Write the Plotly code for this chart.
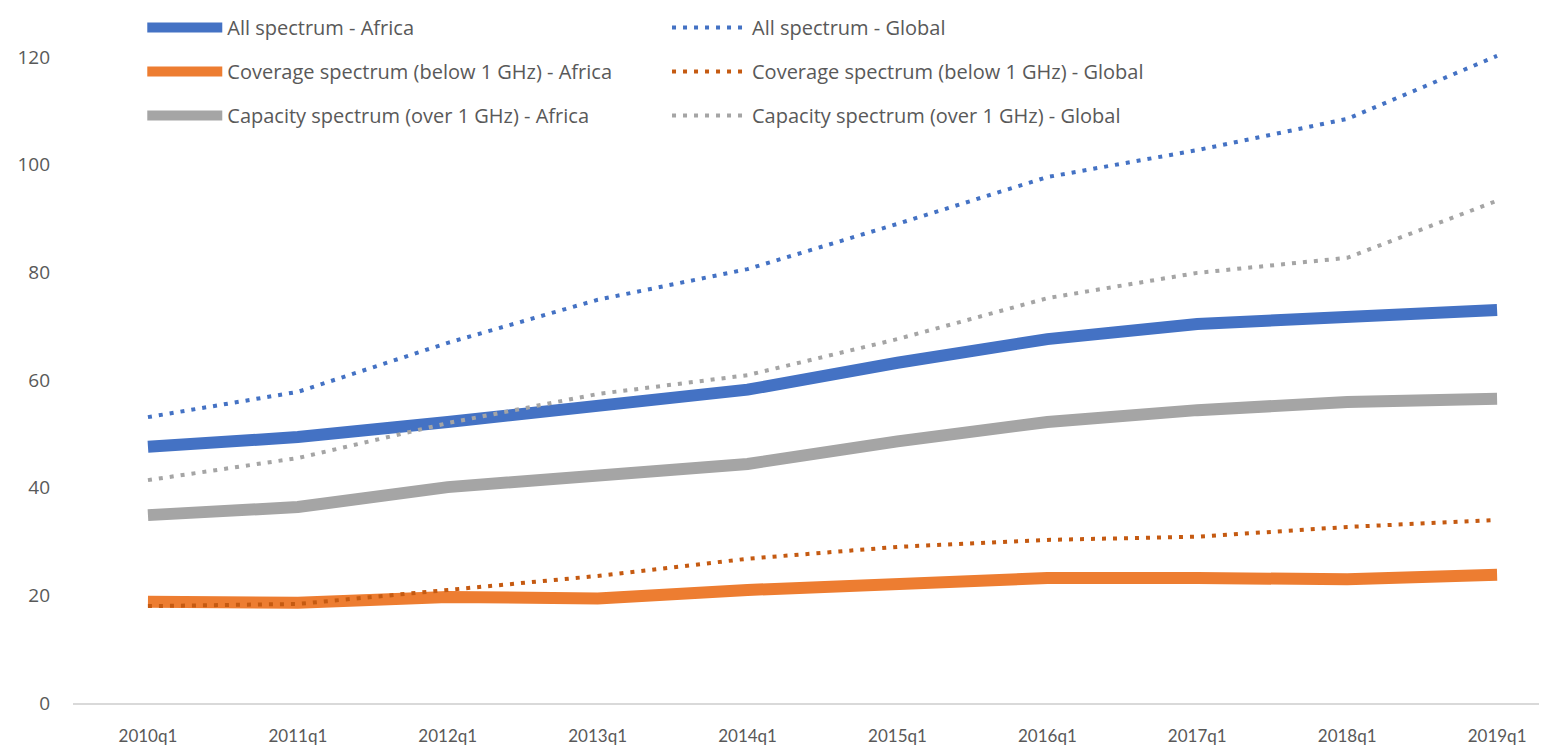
import plotly.graph_objects as go

quarters = ["2010q1", "2011q1", "2012q1", "2013q1", "2014q1",
            "2015q1", "2016q1", "2017q1", "2018q1", "2019q1"]

all_africa = [47.6, 49.4, 52.2, 55.0, 58.2, 63.2, 67.6, 70.4, 71.5, 73.0]
coverage_africa = [18.8, 18.6, 19.7, 19.4, 21.0, 22.2, 23.2, 23.2, 23.0, 23.8]
capacity_africa = [34.9, 36.4, 40.1, 42.2, 44.4, 48.6, 52.2, 54.4, 55.9, 56.5]

all_global = [53.1, 57.8, 66.9, 74.9, 80.6, 89.0, 97.7, 102.7, 108.5, 120.2]
coverage_global = [18.0, 18.4, 21.0, 23.6, 26.8, 29.0, 30.3, 30.9, 32.7, 34.0]
capacity_global = [41.4, 45.5, 52.0, 57.4, 60.9, 67.6, 75.2, 79.9, 82.7, 93.3]

BLUE = "#4472C4"
ORANGE = "#ED7D31"
DARK_ORANGE = "#C55A11"
GREY = "#A5A5A5"
TEXT = "#595959"

fig = go.Figure()

# solid Africa lines (left legend)
africa = [
    ("All spectrum - Africa", all_africa, BLUE),
    ("Coverage spectrum (below 1 GHz) - Africa", coverage_africa, ORANGE),
    ("Capacity spectrum (over 1 GHz) - Africa", capacity_africa, GREY),
]
for i, (name, vals, col) in enumerate(africa):
    fig.add_trace(go.Scatter(
        x=quarters, y=vals, name=name, mode="lines",
        line=dict(color=col, width=12),
        legend="legend", legendgroup=f"a{i}", legendrank=i,
        cliponaxis=False,
    ))

# dotted Global lines (right legend)
globe = [
    ("All spectrum - Global", all_global, BLUE),
    ("Coverage spectrum (below 1 GHz) - Global", coverage_global, DARK_ORANGE),
    ("Capacity spectrum (over 1 GHz) - Global", capacity_global, GREY),
]
for i, (name, vals, col) in enumerate(globe):
    fig.add_trace(go.Scatter(
        x=quarters, y=vals, name=name, mode="lines",
        line=dict(color=col, width=4, dash="4px,7px"),
        legend="legend2", legendgroup=f"g{i}", legendrank=i,
        cliponaxis=False,
    ))

legend_common = dict(
    orientation="v", traceorder="grouped", tracegroupgap=15,
    itemwidth=75, font=dict(family="Open Sans", size=20, color=TEXT),
    bgcolor="rgba(0,0,0,0)", xanchor="left", yanchor="top",
    xref="paper", yref="paper",
)

# the page body adds an 8px offset, so the figure is 8px smaller each way
fig.update_layout(
    width=1539, height=740,
    margin=dict(l=65, r=0, t=0, b=45),
    paper_bgcolor="white", plot_bgcolor="white",
    font=dict(family="Lato", size=17, color=TEXT),
    showlegend=True,
    legend=dict(x=0.047, y=1.0, **legend_common),
    legend2=dict(x=0.403, y=1.0, **legend_common),
    xaxis=dict(
        type="category", range=[-0.5, 9.333],
        showgrid=False, showline=True, linecolor="#D9D9D9", linewidth=2,
        ticks="", ticklabelstandoff=17, zeroline=False, automargin=False,
    ),
    yaxis=dict(
        range=[0, 129.1], dtick=20, tick0=0,
        showgrid=False, showline=False, zeroline=False,
        ticks="", ticklabelstandoff=22, automargin=False,
        tickfont=dict(family="Open Sans", size=19, color=TEXT),
    ),
)

fig.write_html("out.html")
